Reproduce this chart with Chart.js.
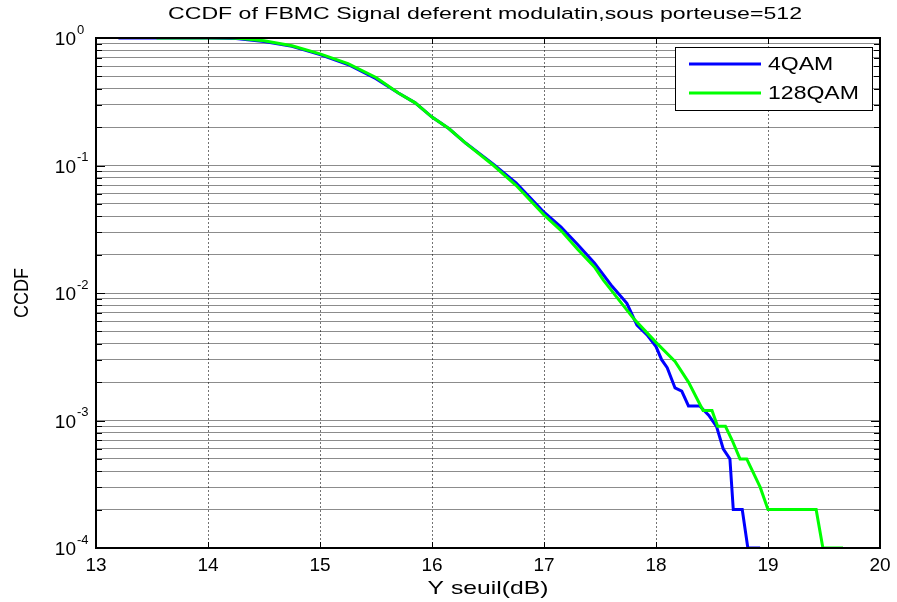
<!DOCTYPE html>
<html>
<head>
<meta charset="utf-8">
<script src="https://cdn.jsdelivr.net/npm/chart.js@4.4.1/dist/chart.umd.min.js"></script>
<style>
	html, body { margin: 0; padding: 0; background: #fff; }
	#wrap { width: 897px; height: 602px; }
</style>
</head>
<body>
<div id="wrap"><canvas id="ccdf" width="897" height="602"></canvas></div>
<script>
// axis ticks
const xTicks = [ 13, 14, 15, 16, 17, 18, 19, 20 ];
const yDecades = [ -4, -3, -2, -1, 0 ];

// CCDF curves
const qam4X = [ 13.2, 14.0, 14.25, 14.5, 14.75, 15.0, 15.25, 15.5, 15.7, 15.85, 16.0, 16.15, 16.3, 16.55, 16.75, 17.0, 17.15, 17.3, 17.45, 17.6, 17.74, 17.83, 17.92, 18.0, 18.05, 18.1, 18.17, 18.23, 18.29, 18.39, 18.47, 18.54, 18.6, 18.66, 18.69, 18.77, 18.82, 18.93 ];
const qam4Y = [ 1, 1, 0.99, 0.94, 0.86, 0.74, 0.62, 0.48, 0.37, 0.31, 0.24, 0.195, 0.15, 0.102, 0.073, 0.043, 0.033, 0.024, 0.0172, 0.0115, 0.0083, 0.0056, 0.0047, 0.0038, 0.003, 0.0026, 0.0018, 0.0017, 0.0013, 0.0013, 0.0011, 0.0009, 0.0006, 0.0005, 0.0002, 0.0002, 0.0001, 0.0001 ];

const qam128X = [ 13.54, 14.2, 14.3, 14.5, 14.75, 15.0, 15.25, 15.5, 15.7, 15.85, 16.0, 16.15, 16.3, 16.55, 16.75, 17.0, 17.15, 17.3, 17.45, 17.53, 17.8, 18.0, 18.17, 18.29, 18.42, 18.5, 18.55, 18.62, 18.68, 18.75, 18.81, 18.93, 19.0, 19.43, 19.49, 19.67 ];
const qam128Y = [ 1, 1, 0.99, 0.95, 0.87, 0.75, 0.63, 0.49, 0.37, 0.31, 0.24, 0.195, 0.15, 0.1, 0.07, 0.041, 0.031, 0.022, 0.016, 0.0126, 0.0063, 0.0041, 0.0029, 0.002, 0.0012, 0.0012, 0.0009, 0.0009, 0.0007, 0.0005, 0.0005, 0.0003, 0.0002, 0.0002, 0.0001, 0.0001 ];

const seriesNames = [ '4QAM', '128QAM' ];
const seriesColors = [ '#0000ff', '#00ff00' ];

const FONT = '"Liberation Sans", Arial, sans-serif';

const toPoints = ( xs, ys ) => xs.map( ( x, i ) => ( { x, y: ys[ i ] } ) );

// text with a horizontal stretch, like the resized MATLAB figure
function drawText( ctx, str, x, y, size, sx, align, angle ) {
	ctx.save();
	ctx.translate( x, y );
	if ( angle ) {
		ctx.rotate( angle );
	}
	ctx.scale( sx, 1 );
	ctx.font = size + 'px ' + FONT;
	ctx.fillStyle = '#000';
	ctx.textAlign = align || 'center';
	ctx.textBaseline = 'middle';
	ctx.fillText( str, 0, 0 );
	ctx.restore();
}

function fitText( ctx, str, cx, cy, size, width ) {
	ctx.font = size + 'px ' + FONT;
	const sx = width / ctx.measureText( str ).width;
	drawText( ctx, str, cx, cy, size, sx, 'center' );
}

const matlabFrame = {
	id: 'matlabFrame',
	afterDraw( chart ) {
		const { ctx, chartArea: a, scales } = chart;
		const xs = scales.x;
		const ys = scales.y;

		// inward ticks
		ctx.save();
		ctx.strokeStyle = '#000';
		ctx.lineWidth = 1;
		ys.ticks.forEach( ( t ) => {
			const py = Math.round( ys.getPixelForValue( t.value ) ) + 0.5;
			const major = Number.isInteger( Math.log10( t.value ) );
			const len = major ? 9 : 6;
			ctx.beginPath();
			ctx.moveTo( a.left, py );
			ctx.lineTo( a.left + len, py );
			ctx.moveTo( a.right, py );
			ctx.lineTo( a.right - len, py );
			ctx.stroke();
		} );
		xTicks.forEach( ( v ) => {
			const px = Math.round( xs.getPixelForValue( v ) ) + 0.5;
			ctx.beginPath();
			ctx.moveTo( px, a.top );
			ctx.lineTo( px, a.top + 6 );
			ctx.moveTo( px, a.bottom );
			ctx.lineTo( px, a.bottom - 6 );
			ctx.stroke();
		} );

		// axes box
		ctx.lineWidth = 2;
		ctx.strokeRect( a.left, a.top, a.right - a.left, a.bottom - a.top );
		ctx.restore();

		// y tick labels 10^n
		yDecades.forEach( ( e ) => {
			const py = ys.getPixelForValue( Math.pow( 10, e ) );
			drawText( ctx, '10', a.left - 20, py + 2, 19, 1, 'right' );
			drawText( ctx, String( e ), a.left - 19, py - 8, 13, 1, 'left' );
		} );

		// titles
		fitText( ctx, 'CCDF of FBMC Signal deferent modulatin,sous porteuse=512', 485, 14, 17, 634 );
		drawText( ctx, 'Y seuil(dB)', ( a.left + a.right ) / 2, 589, 19, 1.3, 'center' );
		drawText( ctx, 'CCDF', 22, ( a.top + a.bottom ) / 2, 20, 0.9, 'center', -Math.PI / 2 );

		// legend
		const lx = 675, ly = 47, lw = 197, lh = 63;
		ctx.save();
		ctx.fillStyle = '#fff';
		ctx.fillRect( lx, ly, lw, lh );
		ctx.strokeStyle = '#000';
		ctx.lineWidth = 1;
		ctx.strokeRect( lx + 0.5, ly + 0.5, lw, lh );
		seriesNames.forEach( ( name, i ) => {
			const yy = ly + 17 + i * 29;
			ctx.strokeStyle = seriesColors[ i ];
			ctx.lineWidth = 3;
			ctx.beginPath();
			ctx.moveTo( lx + 14, yy );
			ctx.lineTo( lx + 86, yy );
			ctx.stroke();
			drawText( ctx, name, lx + 93, yy + 1, 18, 1.28, 'left' );
		} );
		ctx.restore();
	},
};

new Chart( document.getElementById( 'ccdf' ), {
	type: 'line',
	data: {
		datasets: [
			{
				label: seriesNames[ 0 ],
				data: toPoints( qam4X, qam4Y ),
				borderColor: seriesColors[ 0 ],
				borderWidth: 3,
				pointRadius: 0,
				tension: 0,
				order: 1,
			},
			{
				label: seriesNames[ 1 ],
				data: toPoints( qam128X, qam128Y ),
				borderColor: seriesColors[ 1 ],
				borderWidth: 3,
				pointRadius: 0,
				tension: 0,
				order: 0,
			},
		],
	},
	options: {
		responsive: false,
		animation: false,
		devicePixelRatio: 1,
		layout: {
			padding: { top: 38, right: 17, left: 0, bottom: 0 },
		},
		plugins: {
			legend: { display: false },
			title: { display: false },
			tooltip: { enabled: false },
		},
		scales: {
			x: {
				type: 'linear',
				min: 13,
				max: 20,
				afterBuildTicks: ( s ) => {
					s.ticks = xTicks.map( ( v ) => ( { value: v } ) );
				},
				ticks: {
					color: '#000',
					font: { family: FONT, size: 19 },
					padding: 6,
					maxRotation: 0,
				},
				grid: { color: 'rgba(0,0,0,0.55)', drawTicks: false },
				border: { display: false, dash: [ 2, 2 ] },
				afterFit: ( s ) => {
					s.height = 54;
				},
			},
			y: {
				type: 'logarithmic',
				min: 1e-4,
				max: 1,
				afterBuildTicks: ( s ) => {
					const t = [];
					yDecades.forEach( ( e ) => {
						for ( let m = 1; m <= 9; m++ ) {
							const v = m * Math.pow( 10, e );
							if ( v <= 1 ) {
								t.push( { value: v } );
							}
						}
					} );
					s.ticks = t;
				},
				ticks: { display: false },
				grid: { color: 'rgba(0,0,0,0.45)', drawTicks: false },
				border: { display: false },
				afterFit: ( s ) => {
					s.width = 96;
				},
			},
		},
	},
	plugins: [ matlabFrame ],
} );
</script>
</body>
</html>
